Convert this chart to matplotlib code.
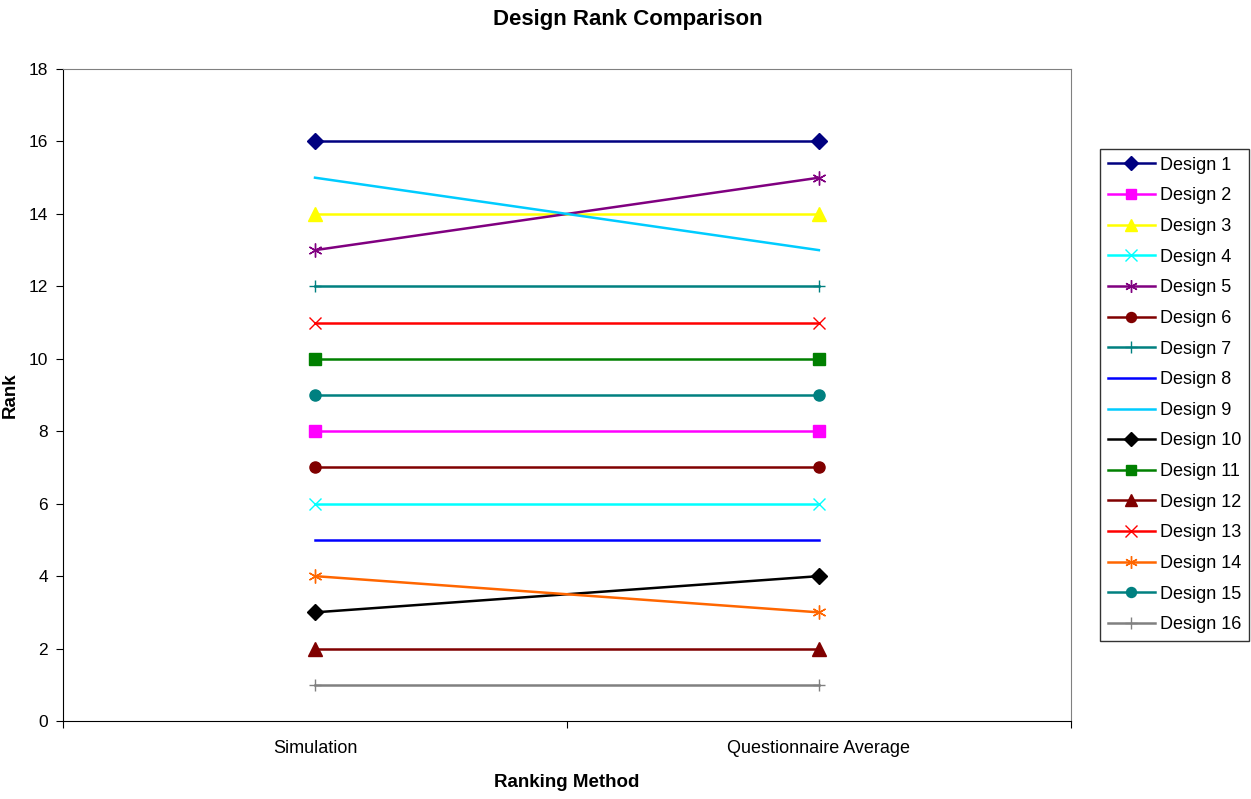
import matplotlib
matplotlib.use("Agg")
import matplotlib.pyplot as plt

plt.rcParams['font.family'] = ['Liberation Sans', 'DejaVu Sans']

methods = ["Simulation", "Questionnaire Average"]
designs = ["Design %d" % i for i in range(1, 17)]
simulation = [16, 8, 14, 6, 13, 7, 12, 5, 15, 3, 10, 2, 11, 4, 9, 1]
questionnaire = [16, 8, 14, 6, 15, 7, 12, 5, 13, 4, 10, 2, 11, 3, 9, 1]

colors = ["#000080", "#FF00FF", "#FFFF00", "#00FFFF", "#800080", "#800000",
          "#008080", "#0000FF", "#00CCFF", "#000000", "#008000", "#800000",
          "#FF0000", "#FF6600", "#008080", "#808080"]
markers = ["D", "s", "^", "x", (6, 2, 0), "o", "+", "None", "None", "D",
           "s", "^", "x", (6, 2, 0), "o", "+"]
sizes = [8, 8, 10, 9, 10, 8, 9, 0, 0, 8, 8, 10, 9, 10, 8, 9]

fig = plt.figure(figsize=(12.51, 7.99), dpi=100)
ax = fig.add_axes([0.0504, 0.0976, 0.8056, 0.816])

xs = [1, 2]
for i in range(len(designs)):
    m = markers[i]
    ax.plot(xs, [simulation[i], questionnaire[i]], color=colors[i], lw=1.8,
            marker=m, markersize=sizes[i], markeredgewidth=1.0,
            markerfacecolor=colors[i], markeredgecolor=colors[i],
            label=designs[i])

ax.set_xlim(0.5, 2.5)
ax.set_ylim(0, 18)
ax.set_yticks(range(0, 19, 2))
ax.set_xticks([0.5, 1.5, 2.5])
ax.set_xticklabels([])
ax.set_xticks(xs, minor=True)
ax.set_xticklabels(methods, minor=True)
ax.tick_params(axis='x', which='minor', length=0, pad=14, labelsize=13)
ax.tick_params(axis='x', which='major', length=5, direction='out')
ax.tick_params(axis='y', length=5, direction='out', labelsize=12.5, pad=6)

ax.spines['top'].set_color('#808080')
ax.spines['right'].set_color('#808080')

fig.suptitle("Design Rank Comparison", x=0.502, y=0.976, va='center',
             fontsize=16, fontweight='bold')
ax.set_xlabel("Ranking Method", fontsize=13.5, fontweight='bold', labelpad=12)
ax.set_ylabel("Rank", fontsize=13.5, fontweight='bold')
ax.yaxis.set_label_coords(-0.044, 0.5)

leg = ax.legend(loc='upper left', bbox_to_anchor=(1.029, 0.877), fontsize=13,
                frameon=True, fancybox=False, edgecolor='black',
                labelspacing=0.755, handlelength=2.6, handletextpad=0.3,
                borderpad=0.42, borderaxespad=0, markerscale=0.9)
leg.get_frame().set_linewidth(1.0)

fig.savefig("out.png", dpi=100)
